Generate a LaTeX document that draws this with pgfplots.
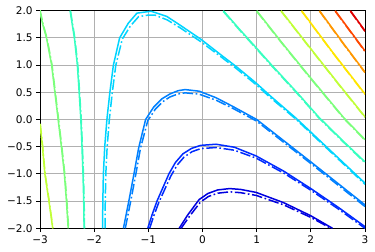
\documentclass[border=0pt]{standalone}
\usepackage{fontspec}
\setmainfont{DejaVu Sans}
\usepackage{pgfplots}
\pgfplotsset{compat=1.18}
\usetikzlibrary{calc}
\definecolor{c1}{rgb}{0,0,0.88}
\definecolor{c2}{rgb}{0,0.167,1}
\definecolor{c3}{rgb}{0,0.5,1}
\definecolor{c4}{rgb}{0,0.833,1}
\definecolor{c5}{rgb}{0.215,1,0.753}
\definecolor{c6}{rgb}{0.484,1,0.484}
\definecolor{c7}{rgb}{0.753,1,0.215}
\definecolor{c8}{rgb}{1,0.901,0}
\definecolor{c9}{rgb}{1,0.593,0}
\definecolor{c10}{rgb}{1,0.284,0}
\definecolor{c11}{rgb}{0.879,0,0}
\definecolor{gridc}{HTML}{B0B0B0}
\tikzset{sol/.style={line width=1.5pt, line join=round},
 dd/.style={line width=1.5pt, line join=round, dash pattern=on 10.5pt off 2.6pt on 1.65pt off 2.6pt}}
\begin{document}
\begin{tikzpicture}
\begin{axis}[name=ax, scale only axis, width=325pt, height=217.6pt,
 xmin=-3, xmax=3, ymin=-2, ymax=2, no markers,
 xtick={-3,-2,-1,0,1,2,3}, xticklabels={−3,−2,−1,0,1,2,3},
 ytick={-2,-1.5,-1,-0.5,0,0.5,1,1.5,2},
 yticklabels={−2.0,−1.5,−1.0,−0.5,0.0,0.5,1.0,1.5,2.0},
 grid=major, grid style={color=gridc, line width=0.9pt},
 axis line style={line width=0.9pt},
 tick align=outside, tick pos=left, major tick length=3.85pt,
 tick style={black, line width=0.9pt},
 ticklabel style={font=\fontsize{10.5}{12}\selectfont},
]
% level 1 (D)
\addplot[sol, c1] coordinates {(-0.43,-2.0) (-0.27,-1.75) (-0.06,-1.47) (0.1,-1.36) (0.28,-1.295) (0.5,-1.27) (0.7,-1.285) (0.99,-1.34) (1.5,-1.53) (2.0,-1.77) (2.4,-2.0)};
\addplot[dd, c1] coordinates {(-0.395,-2.0) (-0.24,-1.78) (-0.04,-1.52) (0.11,-1.415) (0.28,-1.355) (0.5,-1.33) (0.7,-1.345) (0.99,-1.395) (1.5,-1.57) (2.0,-1.80) (2.37,-2.0)};
% level 2 (C)
\addplot[sol, c2] coordinates {(-1.01,-2.0) (-0.93,-1.75) (-0.84,-1.5) (-0.73,-1.25) (-0.62,-1.0) (-0.5,-0.79) (-0.36,-0.63) (-0.2,-0.53) (-0.03,-0.475) (0.25,-0.455) (0.59,-0.51) (0.99,-0.67) (1.5,-0.95) (2.0,-1.27) (2.5,-1.61) (3.0,-1.97)};
\addplot[dd, c2] coordinates {(-0.975,-2.0) (-0.895,-1.76) (-0.805,-1.52) (-0.695,-1.28) (-0.585,-1.04) (-0.47,-0.84) (-0.34,-0.69) (-0.19,-0.59) (-0.03,-0.535) (0.25,-0.515) (0.59,-0.565) (0.99,-0.71) (1.5,-0.985) (2.0,-1.3) (2.5,-1.64) (3.0,-2.0)};
% level 3 (B)
\addplot[sol, c3] coordinates {(-1.46,-2.0) (-1.36,-1.5) (-1.265,-1.0) (-1.18,-0.53) (-1.05,0.0) (-0.9,0.23) (-0.75,0.38) (-0.6,0.47) (-0.45,0.53) (-0.32,0.55) (-0.06,0.52) (0.25,0.40) (0.56,0.24) (1.0,0.0) (2.0,-0.78) (3.0,-1.57)};
\addplot[dd, c3] coordinates {(-1.425,-2.0) (-1.325,-1.5) (-1.23,-1.0) (-1.145,-0.53) (-1.01,-0.02) (-0.87,0.19) (-0.73,0.33) (-0.6,0.415) (-0.45,0.47) (-0.32,0.49) (-0.06,0.465) (0.25,0.355) (0.56,0.205) (1.0,-0.03) (2.0,-0.81) (3.0,-1.6)};
% level 4 (A)
\addplot[sol, c4] coordinates {(-1.845,-2.0) (-1.84,-1.5) (-1.83,-1.0) (-1.805,-0.5) (-1.765,0.0) (-1.71,0.5) (-1.645,1.0) (-1.53,1.5) (-1.37,1.77) (-1.21,1.955) (-0.95,1.99) (-0.66,1.895) (-0.43,1.745) (-0.03,1.475) (0.37,1.165) (0.62,0.975) (0.99,0.67) (1.25,0.435) (1.72,0.03) (3.0,-1.17)};
\addplot[dd, c4] coordinates {(-1.80,-2.0) (-1.795,-1.5) (-1.785,-1.0) (-1.76,-0.5) (-1.72,0.0) (-1.665,0.5) (-1.6,1.0) (-1.48,1.48) (-1.33,1.72) (-1.18,1.89) (-1.0,1.92) (-0.88,1.92) (-0.65,1.83) (-0.42,1.69) (-0.03,1.43) (0.37,1.13) (0.62,0.94) (0.99,0.64) (1.25,0.405) (1.72,0.01) (3.0,-1.19)};
% level 5
\addplot[sol, c5] coordinates {(-2.445,2.0) (-2.365,1.5) (-2.31,1.0) (-2.277,0.5) (-2.246,0.0) (-2.225,-0.5) (-2.206,-1.0) (-2.193,-1.5) (-2.186,-2.0)};
\addplot[dd, c5] coordinates {(-2.437,2.0) (-2.357,1.5) (-2.302,1.0) (-2.269,0.5) (-2.238,0.0) (-2.217,-0.5) (-2.198,-1.0) (-2.185,-1.5) (-2.178,-2.0)};
\addplot[sol, c5] coordinates {(0.384,2.0) (0.7,1.64) (1.0,1.31) (1.25,1.03) (1.75,0.49) (2.15,0.04) (2.6,-0.4) (3.0,-0.78)};
\addplot[dd, c5] coordinates {(0.384,1.985) (0.7,1.625) (1.0,1.295) (1.25,1.015) (1.75,0.475) (2.15,0.025) (2.6,-0.415) (3.0,-0.795)};
% level 6
\addplot[sol, c6] coordinates {(-3.01,2.02) (-2.95,1.75) (-2.88,1.5) (-2.785,1.0) (-2.725,0.5) (-2.665,0.0) (-2.605,-0.5) (-2.55,-1.0) (-2.512,-1.5) (-2.48,-2.0)};
\addplot[dd, c6] coordinates {(-3.0,2.02) (-2.942,1.75) (-2.872,1.5) (-2.777,1.0) (-2.717,0.5) (-2.657,0.0) (-2.597,-0.5) (-2.542,-1.0) (-2.504,-1.5) (-2.472,-2.0)};
\addplot[sol, c6] coordinates {(1.0,2.0) (1.5,1.37) (2.0,0.76) (2.61,0.03) (3.0,-0.37)};
\addplot[dd, c6] coordinates {(1.0,1.988) (1.5,1.358) (2.0,0.748) (2.61,0.018) (3.0,-0.382)};
% level 7
\addplot[sol, c7] coordinates {(-3.0,-0.08) (-2.955,-0.5) (-2.91,-1.0) (-2.835,-1.5) (-2.765,-2.0)};
\addplot[dd, c7] coordinates {(-2.995,-0.08) (-2.95,-0.5) (-2.905,-1.0) (-2.83,-1.5) (-2.76,-2.0)};
\addplot[sol, c7] coordinates {(1.45,2.0) (2.0,1.3) (2.5,0.67) (3.0,0.05)};
\addplot[dd, c7] coordinates {(1.45,1.99) (2.0,1.29) (2.5,0.66) (3.0,0.04)};
% level 8
\addplot[sol, c8] coordinates {(1.83,2.0) (2.4,1.24) (3.0,0.47)};
\addplot[dd, c8] coordinates {(1.83,1.99) (2.4,1.23) (3.0,0.46)};
% level 9
\addplot[sol, c9] coordinates {(2.16,2.0) (2.6,1.4) (3.0,0.87)};
\addplot[dd, c9] coordinates {(2.16,1.99) (2.6,1.39) (3.0,0.86)};
% level 10
\addplot[sol, c10] coordinates {(2.45,2.0) (3.0,1.26)};
\addplot[dd, c10] coordinates {(2.45,1.99) (3.0,1.25)};
% level 11
\addplot[sol, c11] coordinates {(2.73,2.0) (3.0,1.63)};
\addplot[dd, c11] coordinates {(2.73,1.99) (3.0,1.62)};
\end{axis}
\path (ax.south west) ++(-40pt,-23.7pt) rectangle ($(ax.north east)+(10pt,10.7pt)$);
\end{tikzpicture}
\end{document}
